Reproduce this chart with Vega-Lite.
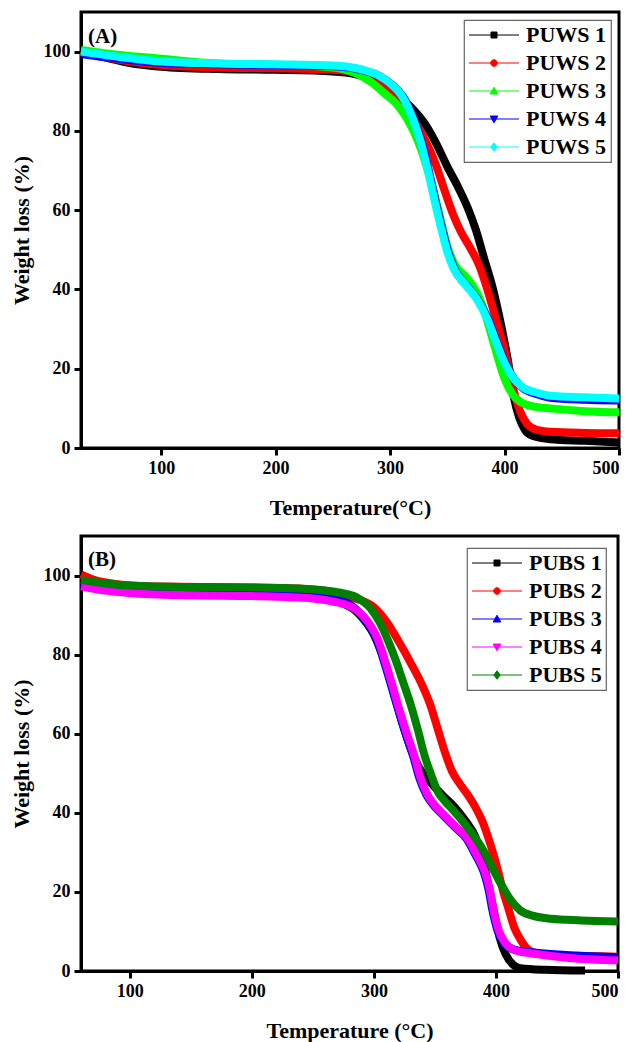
{
"$schema": "https://vega.github.io/schema/vega-lite/v6.json",
"background": "white",
"padding": {"left": 8, "top": 10, "right": 12, "bottom": 0},
"spacing": 14,
"datasets": {
"A": [
{"s":"PUWS 1","t":30,"w":100},{"s":"PUWS 1","t":50,"w":98.6},{"s":"PUWS 1","t":75,"w":97},{"s":"PUWS 1","t":100,"w":96.2},{"s":"PUWS 1","t":150,"w":95.6},{"s":"PUWS 1","t":200,"w":95.4},{"s":"PUWS 1","t":250,"w":95},{"s":"PUWS 1","t":270,"w":94.3},{"s":"PUWS 1","t":285,"w":93},{"s":"PUWS 1","t":300,"w":90.5},{"s":"PUWS 1","t":310,"w":88.2},{"s":"PUWS 1","t":320,"w":85.5},{"s":"PUWS 1","t":330,"w":82},{"s":"PUWS 1","t":340,"w":77},{"s":"PUWS 1","t":350,"w":71},{"s":"PUWS 1","t":360,"w":65.5},{"s":"PUWS 1","t":368,"w":60.5},{"s":"PUWS 1","t":375,"w":55},{"s":"PUWS 1","t":382,"w":48},{"s":"PUWS 1","t":390,"w":40},{"s":"PUWS 1","t":397,"w":31},{"s":"PUWS 1","t":403,"w":22},{"s":"PUWS 1","t":408,"w":13},{"s":"PUWS 1","t":413,"w":7.5},{"s":"PUWS 1","t":418,"w":4.5},{"s":"PUWS 1","t":425,"w":3},{"s":"PUWS 1","t":440,"w":2.2},{"s":"PUWS 1","t":470,"w":1.8},{"s":"PUWS 1","t":500,"w":1.4},
{"s":"PUWS 2","t":30,"w":99.8},{"s":"PUWS 2","t":50,"w":98.6},{"s":"PUWS 2","t":100,"w":96.6},{"s":"PUWS 2","t":150,"w":96},{"s":"PUWS 2","t":200,"w":95.8},{"s":"PUWS 2","t":250,"w":95.4},{"s":"PUWS 2","t":270,"w":94.7},{"s":"PUWS 2","t":285,"w":93.3},{"s":"PUWS 2","t":300,"w":90.5},{"s":"PUWS 2","t":310,"w":87.5},{"s":"PUWS 2","t":320,"w":83},{"s":"PUWS 2","t":330,"w":78},{"s":"PUWS 2","t":340,"w":71.5},{"s":"PUWS 2","t":347,"w":65.5},{"s":"PUWS 2","t":355,"w":59},{"s":"PUWS 2","t":362,"w":54.5},{"s":"PUWS 2","t":370,"w":50.5},{"s":"PUWS 2","t":378,"w":46},{"s":"PUWS 2","t":385,"w":40},{"s":"PUWS 2","t":392,"w":33},{"s":"PUWS 2","t":397,"w":28},{"s":"PUWS 2","t":403,"w":21},{"s":"PUWS 2","t":408,"w":14.5},{"s":"PUWS 2","t":414,"w":9},{"s":"PUWS 2","t":420,"w":6},{"s":"PUWS 2","t":428,"w":4.6},{"s":"PUWS 2","t":440,"w":4.1},{"s":"PUWS 2","t":470,"w":3.8},{"s":"PUWS 2","t":500,"w":3.7},
{"s":"PUWS 3","t":30,"w":100.4},{"s":"PUWS 3","t":50,"w":99.6},{"s":"PUWS 3","t":100,"w":98.2},{"s":"PUWS 3","t":150,"w":97},{"s":"PUWS 3","t":200,"w":96.7},{"s":"PUWS 3","t":250,"w":96},{"s":"PUWS 3","t":270,"w":94.5},{"s":"PUWS 3","t":285,"w":92},{"s":"PUWS 3","t":295,"w":89.5},{"s":"PUWS 3","t":305,"w":87},{"s":"PUWS 3","t":315,"w":83},{"s":"PUWS 3","t":325,"w":77},{"s":"PUWS 3","t":335,"w":68},{"s":"PUWS 3","t":343,"w":59},{"s":"PUWS 3","t":350,"w":51},{"s":"PUWS 3","t":357,"w":46},{"s":"PUWS 3","t":365,"w":43.5},{"s":"PUWS 3","t":372,"w":41},{"s":"PUWS 3","t":380,"w":36.5},{"s":"PUWS 3","t":388,"w":29},{"s":"PUWS 3","t":395,"w":22},{"s":"PUWS 3","t":400,"w":17.5},{"s":"PUWS 3","t":407,"w":13.5},{"s":"PUWS 3","t":414,"w":11.6},{"s":"PUWS 3","t":425,"w":10.5},{"s":"PUWS 3","t":440,"w":10},{"s":"PUWS 3","t":470,"w":9.3},{"s":"PUWS 3","t":500,"w":9},
{"s":"PUWS 4","t":30,"w":99.4},{"s":"PUWS 4","t":60,"w":98.3},{"s":"PUWS 4","t":100,"w":97.2},{"s":"PUWS 4","t":150,"w":96.8},{"s":"PUWS 4","t":200,"w":96.6},{"s":"PUWS 4","t":250,"w":96.3},{"s":"PUWS 4","t":276,"w":95.3},{"s":"PUWS 4","t":291,"w":93.8},{"s":"PUWS 4","t":301,"w":91.8},{"s":"PUWS 4","t":311,"w":88.8},{"s":"PUWS 4","t":321,"w":82.8},{"s":"PUWS 4","t":328,"w":76.8},{"s":"PUWS 4","t":334,"w":69.8},{"s":"PUWS 4","t":341,"w":60.8},{"s":"PUWS 4","t":346,"w":54.8},{"s":"PUWS 4","t":351,"w":49.3},{"s":"PUWS 4","t":357,"w":44.8},{"s":"PUWS 4","t":366,"w":41.3},{"s":"PUWS 4","t":377,"w":37.3},{"s":"PUWS 4","t":386,"w":32.3},{"s":"PUWS 4","t":394,"w":26.3},{"s":"PUWS 4","t":401,"w":21.3},{"s":"PUWS 4","t":409,"w":17.2},{"s":"PUWS 4","t":416,"w":15.1},{"s":"PUWS 4","t":429,"w":13.5},{"s":"PUWS 4","t":440,"w":12.7},{"s":"PUWS 4","t":470,"w":12.2},{"s":"PUWS 4","t":500,"w":12},
{"s":"PUWS 5","t":30,"w":100},{"s":"PUWS 5","t":60,"w":98.8},{"s":"PUWS 5","t":100,"w":97.5},{"s":"PUWS 5","t":150,"w":97},{"s":"PUWS 5","t":200,"w":96.8},{"s":"PUWS 5","t":250,"w":96.5},{"s":"PUWS 5","t":275,"w":95.5},{"s":"PUWS 5","t":290,"w":94},{"s":"PUWS 5","t":300,"w":92},{"s":"PUWS 5","t":310,"w":89},{"s":"PUWS 5","t":320,"w":83},{"s":"PUWS 5","t":327,"w":77},{"s":"PUWS 5","t":333,"w":70},{"s":"PUWS 5","t":340,"w":61},{"s":"PUWS 5","t":345,"w":55},{"s":"PUWS 5","t":350,"w":49.5},{"s":"PUWS 5","t":356,"w":45},{"s":"PUWS 5","t":365,"w":41.5},{"s":"PUWS 5","t":376,"w":37.5},{"s":"PUWS 5","t":385,"w":32.5},{"s":"PUWS 5","t":393,"w":26.5},{"s":"PUWS 5","t":400,"w":21.5},{"s":"PUWS 5","t":408,"w":17.5},{"s":"PUWS 5","t":415,"w":15.5},{"s":"PUWS 5","t":428,"w":14},{"s":"PUWS 5","t":440,"w":13.2},{"s":"PUWS 5","t":470,"w":12.8},{"s":"PUWS 5","t":500,"w":12.5}
],
"B": [
{"s":"PUBS 1","t":60,"w":98.5},{"s":"PUBS 1","t":80,"w":97},{"s":"PUBS 1","t":100,"w":96.3},{"s":"PUBS 1","t":150,"w":95.8},{"s":"PUBS 1","t":200,"w":95.5},{"s":"PUBS 1","t":250,"w":95},{"s":"PUBS 1","t":270,"w":93.5},{"s":"PUBS 1","t":287,"w":90.5},{"s":"PUBS 1","t":300,"w":85},{"s":"PUBS 1","t":309,"w":78},{"s":"PUBS 1","t":317,"w":69.5},{"s":"PUBS 1","t":325,"w":61},{"s":"PUBS 1","t":331,"w":55.5},{"s":"PUBS 1","t":337,"w":51.5},{"s":"PUBS 1","t":347,"w":47.5},{"s":"PUBS 1","t":356,"w":44.5},{"s":"PUBS 1","t":366,"w":41.5},{"s":"PUBS 1","t":375,"w":38},{"s":"PUBS 1","t":383,"w":34},{"s":"PUBS 1","t":390,"w":27},{"s":"PUBS 1","t":395,"w":20},{"s":"PUBS 1","t":399,"w":14},{"s":"PUBS 1","t":403,"w":8.5},{"s":"PUBS 1","t":408,"w":4.2},{"s":"PUBS 1","t":414,"w":1.6},{"s":"PUBS 1","t":420,"w":0.7},{"s":"PUBS 1","t":440,"w":0.3},{"s":"PUBS 1","t":473,"w":0.1},
{"s":"PUBS 2","t":60,"w":100.3},{"s":"PUBS 2","t":70,"w":99},{"s":"PUBS 2","t":90,"w":97.8},{"s":"PUBS 2","t":120,"w":97.2},{"s":"PUBS 2","t":200,"w":97},{"s":"PUBS 2","t":250,"w":96.5},{"s":"PUBS 2","t":270,"w":95.6},{"s":"PUBS 2","t":285,"w":94.2},{"s":"PUBS 2","t":300,"w":92},{"s":"PUBS 2","t":310,"w":88.5},{"s":"PUBS 2","t":320,"w":83.5},{"s":"PUBS 2","t":330,"w":78},{"s":"PUBS 2","t":340,"w":72},{"s":"PUBS 2","t":346,"w":67.5},{"s":"PUBS 2","t":352,"w":61.5},{"s":"PUBS 2","t":358,"w":55.5},{"s":"PUBS 2","t":364,"w":50.5},{"s":"PUBS 2","t":370,"w":47.5},{"s":"PUBS 2","t":377,"w":44.5},{"s":"PUBS 2","t":383,"w":41.5},{"s":"PUBS 2","t":390,"w":37},{"s":"PUBS 2","t":396,"w":31.5},{"s":"PUBS 2","t":402,"w":25},{"s":"PUBS 2","t":406,"w":20},{"s":"PUBS 2","t":410,"w":16},{"s":"PUBS 2","t":415,"w":11},{"s":"PUBS 2","t":420,"w":8},{"s":"PUBS 2","t":426,"w":5.5},{"s":"PUBS 2","t":433,"w":4.5},{"s":"PUBS 2","t":450,"w":4},{"s":"PUBS 2","t":475,"w":3.8},{"s":"PUBS 2","t":500,"w":3.6},
{"s":"PUBS 3","t":60,"w":98.3},{"s":"PUBS 3","t":80,"w":97},{"s":"PUBS 3","t":100,"w":96.2},{"s":"PUBS 3","t":150,"w":95.7},{"s":"PUBS 3","t":200,"w":95.5},{"s":"PUBS 3","t":250,"w":95},{"s":"PUBS 3","t":270,"w":93.8},{"s":"PUBS 3","t":280,"w":92.8},{"s":"PUBS 3","t":291,"w":89.5},{"s":"PUBS 3","t":302,"w":84},{"s":"PUBS 3","t":310,"w":76.5},{"s":"PUBS 3","t":319,"w":67},{"s":"PUBS 3","t":326,"w":60},{"s":"PUBS 3","t":332,"w":54.5},{"s":"PUBS 3","t":337,"w":49},{"s":"PUBS 3","t":343,"w":44.5},{"s":"PUBS 3","t":350,"w":41.5},{"s":"PUBS 3","t":357,"w":39.3},{"s":"PUBS 3","t":366,"w":36.5},{"s":"PUBS 3","t":376,"w":33.4},{"s":"PUBS 3","t":383,"w":29.5},{"s":"PUBS 3","t":390,"w":25},{"s":"PUBS 3","t":394,"w":20.5},{"s":"PUBS 3","t":397,"w":15.5},{"s":"PUBS 3","t":401,"w":10.5},{"s":"PUBS 3","t":407,"w":7},{"s":"PUBS 3","t":415,"w":5.4},{"s":"PUBS 3","t":433,"w":4.6},{"s":"PUBS 3","t":460,"w":4},{"s":"PUBS 3","t":500,"w":3.5},
{"s":"PUBS 4","t":60,"w":97.3},{"s":"PUBS 4","t":80,"w":96.2},{"s":"PUBS 4","t":100,"w":95.6},{"s":"PUBS 4","t":150,"w":95},{"s":"PUBS 4","t":200,"w":94.8},{"s":"PUBS 4","t":250,"w":94.2},{"s":"PUBS 4","t":270,"w":93.2},{"s":"PUBS 4","t":280,"w":92.3},{"s":"PUBS 4","t":292,"w":89.5},{"s":"PUBS 4","t":303,"w":84},{"s":"PUBS 4","t":311,"w":76.5},{"s":"PUBS 4","t":320,"w":67},{"s":"PUBS 4","t":327,"w":60},{"s":"PUBS 4","t":333,"w":54.5},{"s":"PUBS 4","t":338,"w":49},{"s":"PUBS 4","t":344,"w":44.5},{"s":"PUBS 4","t":351,"w":41.5},{"s":"PUBS 4","t":358,"w":39.3},{"s":"PUBS 4","t":367,"w":36.5},{"s":"PUBS 4","t":377,"w":33.4},{"s":"PUBS 4","t":384,"w":29.5},{"s":"PUBS 4","t":391,"w":25},{"s":"PUBS 4","t":395,"w":20.5},{"s":"PUBS 4","t":398,"w":15.5},{"s":"PUBS 4","t":402,"w":10.5},{"s":"PUBS 4","t":408,"w":7},{"s":"PUBS 4","t":416,"w":5.2},{"s":"PUBS 4","t":433,"w":4.3},{"s":"PUBS 4","t":460,"w":3.3},{"s":"PUBS 4","t":500,"w":2.7},
{"s":"PUBS 5","t":60,"w":98.9},{"s":"PUBS 5","t":80,"w":98},{"s":"PUBS 5","t":100,"w":97.5},{"s":"PUBS 5","t":150,"w":97.1},{"s":"PUBS 5","t":200,"w":97},{"s":"PUBS 5","t":238,"w":96.7},{"s":"PUBS 5","t":260,"w":96.2},{"s":"PUBS 5","t":275,"w":95.5},{"s":"PUBS 5","t":287,"w":94.3},{"s":"PUBS 5","t":297,"w":91.8},{"s":"PUBS 5","t":305,"w":88},{"s":"PUBS 5","t":311,"w":84},{"s":"PUBS 5","t":318,"w":78.5},{"s":"PUBS 5","t":324,"w":73},{"s":"PUBS 5","t":330,"w":67.5},{"s":"PUBS 5","t":336,"w":61},{"s":"PUBS 5","t":341,"w":55},{"s":"PUBS 5","t":347,"w":49.5},{"s":"PUBS 5","t":352,"w":45.5},{"s":"PUBS 5","t":358,"w":43},{"s":"PUBS 5","t":366,"w":40.3},{"s":"PUBS 5","t":375,"w":37},{"s":"PUBS 5","t":383,"w":33.7},{"s":"PUBS 5","t":391,"w":29.8},{"s":"PUBS 5","t":398,"w":25.5},{"s":"PUBS 5","t":405,"w":21.5},{"s":"PUBS 5","t":412,"w":18},{"s":"PUBS 5","t":420,"w":15.3},{"s":"PUBS 5","t":430,"w":14},{"s":"PUBS 5","t":445,"w":13.2},{"s":"PUBS 5","t":470,"w":12.8},{"s":"PUBS 5","t":500,"w":12.5}
]
},
"vconcat": [
{
"width": 538, "height": 436,
"title": {"text": "(A)", "anchor": "start", "frame": "group", "offset": 0, "dx": 7, "dy": 35},
"data": {"name": "A"},
"layer": [
{"mark": {"type": "line", "strokeWidth": 8, "interpolate": "monotone"},
"encoding": {
"x": {"field": "t", "type": "quantitative", "scale": {"domain": [30, 500], "nice": false, "zero": false}, "axis": {"values": [100, 200, 300, 400, 500], "title": "Temperature(°C)"}},
"y": {"field": "w", "type": "quantitative", "scale": {"domain": [0, 110], "nice": false}, "axis": {"values": [0, 20, 40, 60, 80, 100], "title": "Weight loss (%)"}},
"color": {"field": "s", "type": "nominal", "scale": {"domain": ["PUWS 1","PUWS 2","PUWS 3","PUWS 4","PUWS 5"], "range": ["#000000","#ff0000","#00ff00","#0000ff","#00ffff"]}, "legend": {"title": null, "offset": 8}}
}},
{"transform": [{"filter": "datum.w > 1000"}],
"mark": {"type": "point", "filled": true, "opacity": 1},
"encoding": {
"x": {"field": "t", "type": "quantitative"},
"y": {"field": "w", "type": "quantitative"},
"color": {"field": "s", "type": "nominal", "scale": {"domain": ["PUWS 1","PUWS 2","PUWS 3","PUWS 4","PUWS 5"], "range": ["#000000","#ff0000","#00ff00","#0000ff","#00ffff"]}, "legend": {"title": null, "offset": 8}},
"shape": {"field": "s", "type": "nominal", "scale": {"domain": ["PUWS 1","PUWS 2","PUWS 3","PUWS 4","PUWS 5"], "range": ["M-2.5,0H2.5M-0.3,-0.3H0.3V0.3H-0.3Z","M-2.5,0H2.5M-0.33,0A0.33,0.33,0,1,1,0.33,0A0.33,0.33,0,1,1,-0.33,0Z","M-2.5,0H2.5M0,-0.38L0.38,0.3H-0.38Z","M-2.5,0H2.5M0,0.38L0.38,-0.3H-0.38Z","M-2.5,0H2.5M0,-0.42L0.32,0L0,0.42L-0.32,0Z"]}, "legend": {"title": null, "offset": 8}}
}}
]
},
{
"width": 537, "height": 435,
"title": {"text": "(B)", "anchor": "start", "frame": "group", "offset": 0, "dx": 7, "dy": 34},
"data": {"name": "B"},
"layer": [
{"mark": {"type": "line", "strokeWidth": 8, "interpolate": "monotone"},
"encoding": {
"x": {"field": "t", "type": "quantitative", "scale": {"domain": [60, 500], "nice": false, "zero": false}, "axis": {"values": [100, 200, 300, 400, 500], "title": "Temperature (°C)"}},
"y": {"field": "w", "type": "quantitative", "scale": {"domain": [0, 110], "nice": false}, "axis": {"values": [0, 20, 40, 60, 80, 100], "title": "Weight loss (%)"}},
"color": {"field": "s", "type": "nominal", "scale": {"domain": ["PUBS 1","PUBS 2","PUBS 3","PUBS 4","PUBS 5"], "range": ["#000000","#ff0000","#0000ff","#ff00ff","#008000"]}, "legend": {"title": null, "offset": 12}}
}},
{"transform": [{"filter": "datum.w > 1000"}],
"mark": {"type": "point", "filled": true, "opacity": 1},
"encoding": {
"x": {"field": "t", "type": "quantitative"},
"y": {"field": "w", "type": "quantitative"},
"color": {"field": "s", "type": "nominal", "scale": {"domain": ["PUBS 1","PUBS 2","PUBS 3","PUBS 4","PUBS 5"], "range": ["#000000","#ff0000","#0000ff","#ff00ff","#008000"]}, "legend": {"title": null, "offset": 12}},
"shape": {"field": "s", "type": "nominal", "scale": {"domain": ["PUBS 1","PUBS 2","PUBS 3","PUBS 4","PUBS 5"], "range": ["M-2.5,0H2.5M-0.3,-0.3H0.3V0.3H-0.3Z","M-2.5,0H2.5M-0.33,0A0.33,0.33,0,1,1,0.33,0A0.33,0.33,0,1,1,-0.33,0Z","M-2.5,0H2.5M0,-0.38L0.38,0.3H-0.38Z","M-2.5,0H2.5M0,0.38L0.38,-0.3H-0.38Z","M-2.5,0H2.5M0,-0.42L0.32,0L0,0.42L-0.32,0Z"]}, "legend": {"title": null, "offset": 12}}
}}
]
}
],
"resolve": {"scale": {"color": "independent", "shape": "independent", "x": "independent", "y": "independent"}, "legend": {"color": "independent", "shape": "independent"}},
"config": {
"font": "Liberation Serif",
"view": {"stroke": "black", "strokeWidth": 3},
"title": {"font": "Liberation Serif", "fontSize": 21, "fontWeight": "bold", "color": "black"},
"axis": {"grid": false, "domainColor": "black", "domainWidth": 3, "tickColor": "black", "tickWidth": 3, "tickSize": 7, "labelFont": "Liberation Serif", "labelFontWeight": "bold", "labelFontSize": 18, "labelColor": "black", "labelPadding": 4, "titleFont": "Liberation Serif", "titleFontWeight": "bold", "titleFontSize": 22, "titleColor": "black"},
"axisX": {"titlePadding": 20},
"axisY": {"titlePadding": 10},
"legend": {"orient": "top-right", "strokeColor": "#666666", "strokeWidth": 1.2, "fillColor": "white", "padding": 4, "labelFont": "Liberation Serif", "labelFontWeight": "bold", "labelFontSize": 22, "labelColor": "black", "symbolSize": 400, "symbolOffset": 15, "labelOffset": 21, "symbolStrokeWidth": 1, "rowPadding": 6}
}
}
